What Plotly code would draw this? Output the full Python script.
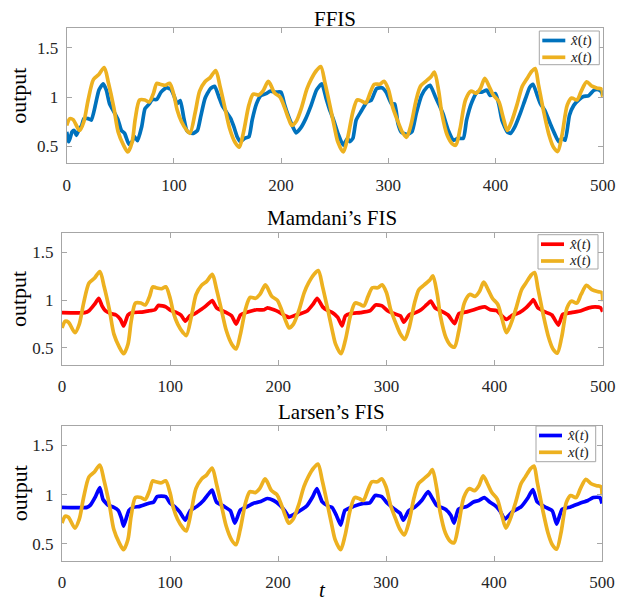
import plotly.graph_objects as go

# ---------------- data ----------------
t_true = [0, 3, 6, 12, 16, 20, 25, 30, 35, 39, 44, 48, 53, 57, 61, 64, 68, 73, 77, 81, 84, 87, 92, 96,
          100, 103, 107, 112, 115, 120, 124, 129, 134, 139, 143, 148, 152, 157, 161, 165, 170, 174, 179,
          183, 188, 190, 194, 199, 203, 207, 210, 214, 219, 224, 228, 233, 237, 241, 246, 250, 253, 258,
          262, 267, 271, 275, 279, 283, 287, 292, 296, 300, 304, 309, 313, 317, 321, 326, 330, 335, 340,
          343, 347, 350, 355, 360, 363, 367, 372, 377, 382, 386, 390, 394, 398, 403, 407, 411, 415, 420,
          425, 429, 434, 437, 440, 445, 450, 454, 458, 462, 467, 471, 476, 480, 485, 490, 495, 499, 500]
x_true = [0.71, 0.78, 0.77, 0.66, 0.75, 0.97, 1.18, 1.23, 1.30, 1.14, 0.89, 0.645, 0.51, 0.44, 0.54,
          0.78, 0.97, 0.97, 0.95, 1.04, 1.14, 1.13, 1.12, 1.14, 1.02, 0.87, 0.75, 0.66, 0.63, 0.85, 1.06,
          1.155, 1.20, 1.27, 1.11, 0.87, 0.68, 0.54, 0.49, 0.645, 0.92, 1.03, 1.02, 1.06, 1.16, 1.13, 1.04,
          1.00, 0.90, 0.78, 0.71, 0.75, 0.89, 1.08, 1.18, 1.27, 1.31, 1.14, 0.89, 0.68, 0.54, 0.44, 0.58,
          0.85, 0.97, 0.96, 0.94, 1.04, 1.13, 1.13, 1.16, 1.08, 0.90, 0.75, 0.645, 0.59, 0.71, 0.97, 1.11,
          1.16, 1.21, 1.255, 1.06, 0.83, 0.61, 0.52, 0.51, 0.68, 0.97, 1.06, 1.04, 1.09, 1.19, 1.11, 1.02,
          0.955, 0.80, 0.66, 0.75, 0.92, 1.11, 1.18, 1.265, 1.29, 1.13, 0.85, 0.61, 0.49, 0.445, 0.61,
          0.92, 0.99, 0.97, 1.06, 1.155, 1.11, 1.09, 1.08, 0.99]

t_ffis = [0, 2, 5, 7, 9, 12, 14, 16, 20, 23, 27, 30, 34, 37, 40, 45, 48, 51, 54, 58, 61, 63, 66, 70,
          73, 77, 80, 84, 88, 93, 97, 100, 103, 106, 109, 112, 115, 118, 122, 125, 129, 134, 138, 142,
          145, 150, 153, 156, 159, 162, 166, 170, 173, 177, 181, 186, 190, 195, 200, 203, 206, 211, 214,
          218, 223, 228, 233, 238, 242, 245, 249, 253, 258, 262, 264, 267, 270, 275, 280, 284, 289, 294,
          298, 303, 306, 309, 312, 317, 322, 326, 331, 336, 339, 344, 347, 351, 356, 361, 365, 370, 373,
          378, 383, 387, 392, 395, 400, 403, 406, 411, 414, 418, 423, 428, 432, 435, 439, 442, 446, 451,
          455, 459, 462, 465, 469, 473, 478, 482, 487, 492, 496, 499, 500]
x_ffis = [0.645, 0.545, 0.645, 0.66, 0.61, 0.68, 0.71, 0.78, 0.78, 0.765, 0.93, 1.07, 1.135, 1.07, 0.93,
          0.83, 0.765, 0.66, 0.63, 0.52, 0.545, 0.60, 0.555, 0.70, 0.88, 0.93, 0.975, 0.975, 1.05, 1.095,
          1.08, 1.015, 0.93, 0.965, 0.80, 0.66, 0.635, 0.63, 0.66, 0.80, 0.985, 1.085, 1.11, 1.00, 0.915,
          0.83, 0.78, 0.695, 0.595, 0.545, 0.58, 0.595, 0.765, 0.93, 1.015, 1.035, 1.06, 1.05, 1.05, 0.93,
          0.83, 0.695, 0.635, 0.68, 0.78, 0.915, 1.07, 1.135, 0.985, 0.88, 0.765, 0.63, 0.51, 0.58, 0.545,
          0.58, 0.765, 0.86, 0.95, 0.965, 1.085, 1.095, 1.05, 0.93, 0.93, 0.73, 0.645, 0.62, 0.645, 0.83,
          1.015, 1.10, 1.12, 1.00, 0.93, 0.83, 0.66, 0.56, 0.58, 0.58, 0.765, 0.95, 1.05, 1.05, 1.07,
          1.015, 1.035, 0.93, 0.765, 0.645, 0.63, 0.695, 0.83, 0.985, 1.10, 1.13, 1.015, 0.93, 0.865,
          0.73, 0.63, 0.545, 0.58, 0.56, 0.815, 0.915, 0.975, 1.005, 1.015, 1.07, 1.075, 1.05, 1.015]

t_mam = [0, 21, 25, 30, 34, 37, 40, 45, 50, 54, 57, 61, 65, 73, 81, 86, 89, 93, 96, 101, 106, 110,
         114, 118, 123, 127, 132, 137, 139, 143, 148, 152, 157, 161, 165, 170, 176, 180, 187, 190, 196,
         200, 205, 210, 214, 221, 227, 232, 236, 241, 246, 250, 255, 259, 262, 267, 276, 285, 290, 296,
         301, 307, 313, 316, 321, 327, 332, 337, 341, 345, 350, 357, 363, 367, 375, 381, 386, 391, 396,
         402, 406, 411, 417, 423, 429, 434, 436, 440, 446, 453, 459, 463, 471, 480, 487, 493, 498, 500]
x_mam = [0.87, 0.87, 0.89, 0.955, 1.02, 0.94, 0.89, 0.86, 0.845, 0.80, 0.73, 0.845, 0.87, 0.875, 0.89,
         0.90, 0.945, 0.94, 0.93, 0.89, 0.87, 0.845, 0.78, 0.835, 0.86, 0.89, 0.93, 0.98, 0.995, 0.92,
         0.89, 0.87, 0.835, 0.75, 0.845, 0.87, 0.89, 0.90, 0.90, 0.92, 0.90, 0.88, 0.845, 0.82, 0.835,
         0.86, 0.89, 0.955, 1.02, 0.93, 0.89, 0.87, 0.82, 0.73, 0.835, 0.86, 0.87, 0.89, 0.95, 0.94, 0.89,
         0.86, 0.835, 0.77, 0.845, 0.87, 0.90, 0.95, 0.99, 0.92, 0.89, 0.845, 0.755, 0.86, 0.88, 0.90,
         0.92, 0.93, 0.90, 0.89, 0.845, 0.80, 0.845, 0.87, 0.92, 0.98, 1.005, 0.92, 0.88, 0.845, 0.74,
         0.85, 0.87, 0.89, 0.92, 0.93, 0.92, 0.88]

t_lar = [0, 23, 26, 31, 35, 38, 43, 48, 52, 55, 57, 62, 66, 72, 80, 85, 88, 96, 100, 105, 109, 114,
         119, 125, 131, 136, 139, 143, 150, 156, 160, 165, 171, 177, 184, 190, 196, 202, 207, 210, 215,
         221, 227, 232, 236, 241, 247, 250, 254, 258, 262, 270, 279, 285, 290, 296, 301, 307, 313, 316,
         321, 327, 333, 339, 343, 347, 355, 360, 363, 367, 375, 381, 386, 391, 396, 402, 406, 410, 417,
         425, 431, 436, 440, 448, 454, 458, 463, 471, 479, 487, 492, 498, 500]
x_lar = [0.87, 0.87, 0.89, 0.98, 1.07, 0.95, 0.89, 0.87, 0.84, 0.76, 0.68, 0.84, 0.87, 0.88, 0.91,
         0.925, 0.98, 0.98, 0.915, 0.87, 0.825, 0.74, 0.84, 0.88, 0.94, 1.01, 1.045, 0.925, 0.88, 0.835,
         0.71, 0.84, 0.875, 0.91, 0.93, 0.96, 0.94, 0.89, 0.825, 0.775, 0.80, 0.84, 0.89, 0.975, 1.06,
         0.925, 0.88, 0.87, 0.79, 0.69, 0.84, 0.88, 0.91, 0.915, 0.99, 0.98, 0.915, 0.86, 0.81, 0.74,
         0.835, 0.875, 0.94, 1.03, 0.96, 0.89, 0.85, 0.79, 0.71, 0.85, 0.88, 0.925, 0.94, 0.97, 0.925,
         0.88, 0.825, 0.75, 0.825, 0.875, 0.96, 1.05, 0.925, 0.87, 0.835, 0.70, 0.85, 0.875, 0.91, 0.94,
         0.97, 0.97, 0.91]

panel_titles = ["FFIS", "Mamdani’s FIS", "Larsen’s FIS"]
est_series = [(t_ffis, x_ffis), (t_mam, x_mam), (t_lar, x_lar)]
est_colors = ["#0072BD", "#FF0000", "#0000FF"]
true_color = "#EDB120"
legend_labels = ["<i>x̂</i>(<i>t</i>)", "<i>x</i>(<i>t</i>)"]
x_ticks = [0, 100, 200, 300, 400, 500]
y_ticks = [0.5, 1, 1.5]
y_ticktext = ["0.5", "1", "1.5"]

# ---------------- layout geometry ----------------
W, H = 618, 604
def fx(px): return px / W
def fy(py): return 1 - py / H

panels = [  # (left, right, top, bottom) in pixels
    (66.7, 602.7, 28.3, 163.3),
    (62.0, 602.7, 233.3, 364.7),
    (62.0, 602.0, 425.7, 561.0),
]
legend_boxes = [(539.3, 31.0, 599.3, 64.7), (538.0, 234.7, 598.0, 269.0), (536.0, 426.0, 595.7, 461.7)]
title_y = [19, 218.5, 412]

FONT = "Liberation Serif"
AX_GRAY = "#A6A6A6"
TXT = "#262626"
LW = 3.7

fig = go.Figure()
shapes, annotations = [], []
layout = dict(
    width=W, height=H, autosize=False,
    margin=dict(l=0, r=0, t=0, b=0, autoexpand=False),
    paper_bgcolor="white", plot_bgcolor="white",
    font=dict(family=FONT, size=17, color=TXT),
    showlegend=False,
)

for i in range(3):
    n = "" if i == 0 else str(i + 1)
    xa, ya = "x" + n, "y" + n
    te, xe = est_series[i]
    fig.add_trace(go.Scatter(x=te, y=xe, mode="lines", name="x̂(t)",
                             line=dict(color=est_colors[i], width=LW, shape="spline", smoothing=0.5),
                             xaxis=xa, yaxis=ya))
    fig.add_trace(go.Scatter(x=t_true, y=x_true, mode="lines", name="x(t)",
                             line=dict(color=true_color, width=LW, shape="spline", smoothing=0.8),
                             xaxis=xa, yaxis=ya))
    L, R, T, B = panels[i]
    common = dict(showgrid=False, zeroline=False, showline=True, linecolor=AX_GRAY, linewidth=1,
                  mirror="ticks", ticks="inside", ticklen=5, tickcolor=AX_GRAY, automargin=False,
                  tickfont=dict(family=FONT, size=17, color=TXT))
    layout["xaxis" + n] = dict(domain=[fx(L), fx(R)], range=[0, 500], tickvals=x_ticks,
                               anchor=ya, ticklabelstandoff=6, **common)
    layout["yaxis" + n] = dict(domain=[fy(B), fy(T)], range=[0.325, 1.7], tickvals=y_ticks,
                               ticktext=y_ticktext, anchor=xa, ticklabelstandoff=4, **common)

    # legend box (drawn like MATLAB's: opaque white with a thin grey frame)
    bl, bt, br, bb = legend_boxes[i]
    shapes.append(dict(type="rect", xref="paper", yref="paper", x0=fx(bl), x1=fx(br),
                       y0=fy(bb), y1=fy(bt), line=dict(color=AX_GRAY, width=1),
                       fillcolor="white", layer="above"))
    for k, col in enumerate([est_colors[i], true_color]):
        ry = bt + 9.5 + k * 16.8
        shapes.append(dict(type="line", xref="paper", yref="paper", x0=fx(bl + 3), x1=fx(bl + 26),
                           y0=fy(ry), y1=fy(ry), line=dict(color=col, width=LW), layer="above"))
        annotations.append(dict(text=legend_labels[k], x=fx(bl + 28.5), y=fy(ry), xref="paper",
                                yref="paper", showarrow=False, xanchor="left", yanchor="middle",
                                font=dict(family=FONT, size=15, color=TXT)))

    annotations.append(dict(text=panel_titles[i], x=fx((L + R) / 2), y=fy(title_y[i]),
                            xref="paper", yref="paper", showarrow=False,
                            xanchor="center", yanchor="middle",
                            font=dict(family=FONT, size=21, color="black")))
    annotations.append(dict(text="output", x=fx(19), y=fy((T + B) / 2),
                            xref="paper", yref="paper", showarrow=False, textangle=-90,
                            xanchor="center", yanchor="middle",
                            font=dict(family=FONT, size=22, color="black")))

annotations.append(dict(text="<i>t</i>", x=fx(323), y=0, xref="paper", yref="paper",
                        showarrow=False, xanchor="center", yanchor="bottom",
                        font=dict(family=FONT, size=21, color="black")))

layout["shapes"] = shapes
layout["annotations"] = annotations
fig.update_layout(**layout)
fig.write_html("out.html", config={"responsive": False, "displayModeBar": False},
               post_script="document.body.style.margin='0';document.body.style.overflow='hidden';")
